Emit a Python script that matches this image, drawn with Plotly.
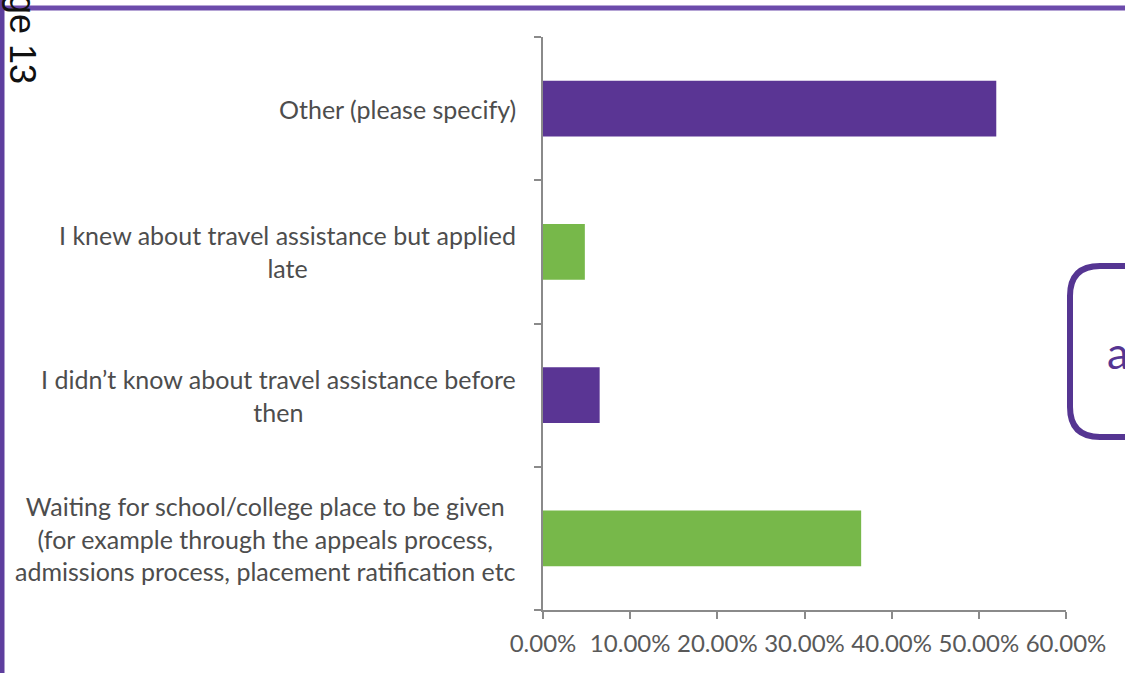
import plotly.graph_objects as go

# ---- data (bottom to top, as drawn) ----
categories = [
    "Waiting for school/college place to be given<br>(for example through the appeals process,<br>admissions process, placement ratification etc",
    "I didn\u2019t know about travel assistance before<br>then",
    "I knew about travel assistance but applied<br>late",
    "Other (please specify)",
]
values = [0.365, 0.065, 0.048, 0.520]
bar_colors = ["#77B84A", "#5A3594", "#77B84A", "#5A3594"]
x_tick_vals = [0, 0.1, 0.2, 0.3, 0.4, 0.5, 0.6]
page_text = "Page 13"
box_text = "a"

W, H = 1125, 673
ML, MR, MT, MB = 543, 59, 37, 63
PW, PH = W - ML - MR, H - MT - MB


def px(x):
    return (x - ML) / PW


def py(y):
    return (H - MB - y) / PH


fig = go.Figure()
fig.add_trace(go.Bar(
    x=values, y=categories, orientation="h",
    marker=dict(color=bar_colors, line=dict(width=0)),
    hoverinfo="skip",
))

axis_col = "#8A8A8A"
fig.update_layout(
    width=W, height=H,
    margin=dict(l=ML, r=MR, t=MT, b=MB),
    paper_bgcolor="white", plot_bgcolor="white",
    bargap=0.61, showlegend=False,
    font=dict(family="Lato", color="#4D4D4D"),
    xaxis=dict(
        range=[0, 0.6], tickvals=x_tick_vals, tickformat=".2%", tickangle=0,
        showgrid=False, zeroline=False, showline=True, linecolor=axis_col, linewidth=1.5,
        ticks="outside", ticklen=7, tickcolor=axis_col, tickwidth=1.5,
        ticklabelstandoff=4,
        tickfont=dict(family="Lato", size=24, color="#595959"),
        fixedrange=True,
    ),
    yaxis=dict(
        type="category", categoryorder="array", categoryarray=categories,
        range=[-0.5, 3.5], showticklabels=False, showgrid=False, zeroline=False,
        showline=True, linecolor=axis_col, linewidth=1.5,
        ticks="outside", tickson="boundaries", ticklen=7, tickcolor=axis_col, tickwidth=1.5,
        fixedrange=True,
    ),
)

# category labels, centred line by line, right edge near the axis
for c in categories:
    fig.add_annotation(
        x=px(518), xref="paper", y=c, yref="y",
        text=c, showarrow=False, xanchor="right", yanchor="middle", align="center",
        font=dict(family="Lato", size=25, color="#4D4D4D"),
    )

# page frame
fig.add_shape(type="line", xref="paper", yref="paper",
              x0=px(0), x1=px(W), y0=py(8), y1=py(8),
              line=dict(color="#6C4BAB", width=5))
fig.add_shape(type="line", xref="paper", yref="paper",
              x0=px(2), x1=px(2), y0=py(0), y1=py(H),
              line=dict(color="#5E3E9E", width=5))

# rounded box on the right
path = (f"M {px(1200)},{py(266)} L {px(1100)},{py(266)} "
        f"Q {px(1070)},{py(266)} {px(1070)},{py(296)} "
        f"L {px(1070)},{py(407)} "
        f"Q {px(1070)},{py(437)} {px(1100)},{py(437)} "
        f"L {px(1200)},{py(437)}")
fig.add_shape(type="path", xref="paper", yref="paper", path=path,
              line=dict(color="#553592", width=6))
fig.add_annotation(x=px(1105), xref="paper", y=py(352), yref="paper",
                   text=box_text, showarrow=False, xanchor="left", yanchor="middle",
                   font=dict(family="Lato", size=44, color="#553592"))

# rotated page number at the top-left
fig.add_annotation(x=px(22), xref="paper", y=py(17), yref="paper",
                   text=page_text, showarrow=False, textangle=90,
                   xanchor="center", yanchor="middle",
                   font=dict(family="Liberation Sans", size=36, color="#111111"))

fig.write_html(
    "out.html",
    config={"displayModeBar": False},
    post_script="document.body.style.margin='0';document.body.style.padding='0';",
)
